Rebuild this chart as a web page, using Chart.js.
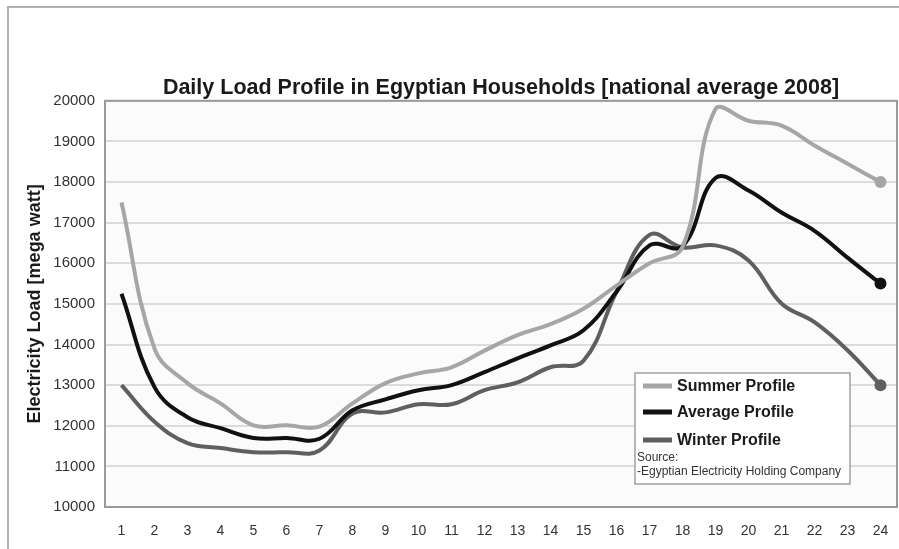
<!DOCTYPE html>
<html>
<head>
<meta charset="utf-8">
<script src="https://cdn.jsdelivr.net/npm/chart.js@4.4.0/dist/chart.umd.min.js"></script>
<style>
    html, body { margin: 0; padding: 0; background: #ffffff; overflow: hidden; }
    #wrap { position: relative; width: 899px; height: 549px; overflow: hidden; }
    #frame {
        position: absolute; left: 7px; top: 6px; right: -10px; bottom: -10px;
        border-left: 2px solid #b0b0b0; border-top: 2px solid #b0b0b0;
    }
    canvas { position: absolute; left: 0; top: 0; }
</style>
</head>
<body>
<div id="wrap">
    <div id="frame"></div>
    <canvas id="loadChart" width="903" height="549"></canvas>
</div>
<script>
// 数据 (hour of day, MW)
const hours = ['1', '2', '3', '4', '5', '6', '7', '8', '9', '10', '11', '12',
    '13', '14', '15', '16', '17', '18', '19', '20', '21', '22', '23', '24'];

const summerProfile = [17500, 13900, 13050, 12550, 12010, 12010, 11980, 12550, 13050, 13290, 13440, 13850,
    14230, 14500, 14880, 15450, 16000, 16400, 19800, 19510, 19390, 18900, 18450, 18000];

const averageProfile = [15250, 12950, 12210, 11940, 11700, 11700, 11680, 12380, 12650, 12875, 13000, 13320,
    13660, 13980, 14350, 15300, 16440, 16420, 18100, 17790, 17250, 16800, 16140, 15500];

const winterProfile = [13000, 12100, 11570, 11450, 11350, 11350, 11390, 12300, 12330, 12530, 12530, 12875,
    13070, 13440, 13600, 15300, 16700, 16390, 16440, 16070, 15010, 14550, 13860, 13000];

const seriesNames = ['Summer Profile', 'Average Profile', 'Winter Profile'];
const sourceLines = ['Source:', '-Egyptian Electricity Holding Company'];

const FONT = '"Liberation Sans", Arial, Helvetica, sans-serif';

// 只在最后一个点画圆点
function lastPointRadius(ctx) {
    return ctx.dataIndex === hours.length - 1 ? 6 : 0;
}

function makeDataset(label, data, color) {
    return {
        label: label,
        data: data,
        borderColor: color,
        backgroundColor: color,
        borderWidth: 4,
        tension: 0.4,
        pointRadius: lastPointRadius,
        pointHoverRadius: lastPointRadius,
        pointBorderWidth: 0,
        fill: false
    };
}

// 绘图区背景和边框
const plotFrame = {
    id: 'plotFrame',
    beforeDraw(chart) {
        const { ctx, chartArea: a } = chart;
        ctx.save();
        ctx.fillStyle = '#fbfbfb';
        ctx.fillRect(a.left, a.top, a.right - a.left, a.bottom - a.top);
        ctx.restore();
    },
    afterDatasetsDraw(chart) {
        const { ctx, chartArea: a } = chart;
        ctx.save();
        ctx.strokeStyle = '#9a9a9a';
        ctx.lineWidth = 2;
        ctx.strokeRect(a.left, a.top, a.right - a.left, a.bottom - a.top);
        ctx.restore();
    }
};

// 图内图例 + 数据来源
const boxLegend = {
    id: 'boxLegend',
    afterDraw(chart) {
        const ctx = chart.ctx;
        const x = 635, y = 373, w = 215, h = 111;
        ctx.save();
        ctx.fillStyle = '#ffffff';
        ctx.fillRect(x, y, w, h);
        ctx.strokeStyle = '#a0a0a0';
        ctx.lineWidth = 1.5;
        ctx.strokeRect(x, y, w, h);

        const rows = [386, 412, 440];
        chart.data.datasets.forEach((ds, i) => {
            ctx.strokeStyle = ds.borderColor;
            ctx.lineWidth = 5;
            ctx.beginPath();
            ctx.moveTo(643, rows[i]);
            ctx.lineTo(672, rows[i]);
            ctx.stroke();
            ctx.fillStyle = '#1a1a1a';
            ctx.font = 'bold 16px ' + FONT;
            ctx.textBaseline = 'middle';
            ctx.textAlign = 'left';
            ctx.fillText(ds.label, 677, rows[i] + 1);
        });

        ctx.font = '12px ' + FONT;
        ctx.fillStyle = '#333333';
        ctx.fillText(sourceLines[0], 637, 458);
        ctx.fillText(sourceLines[1], 637, 472);
        ctx.restore();
    }
};

const chart = new Chart(document.getElementById('loadChart'), {
    type: 'line',
    data: {
        labels: hours,
        datasets: [
            makeDataset(seriesNames[0], summerProfile, '#a6a6a6'),
            makeDataset(seriesNames[1], averageProfile, '#111111'),
            makeDataset(seriesNames[2], winterProfile, '#5f5f5f')
        ]
    },
    options: {
        responsive: false,
        animation: false,
        layout: { padding: { left: 0, right: 2, top: 0, bottom: 0 } },
        plugins: {
            legend: { display: false },
            tooltip: { enabled: false },
            title: {
                display: true,
                text: 'Daily Load Profile in Egyptian Households [national average 2008]',
                fullSize: false,
                color: '#1a1a1a',
                font: { family: FONT, size: 21.5, weight: 'bold' },
                padding: { top: 75, bottom: 0 }
            }
        },
        scales: {
            x: {
                offset: true,
                grid: { display: false, drawTicks: false },
                border: { display: false },
                ticks: {
                    color: '#333333',
                    font: { family: FONT, size: 14 },
                    padding: 16,
                    maxRotation: 0,
                    autoSkip: false
                },
                afterFit(scale) {
                    scale.height = 42;
                    scale.paddingLeft = 0;
                    scale.paddingRight = 0;
                }
            },
            y: {
                min: 10000,
                max: 20000,
                grid: { color: '#dcdcdc', lineWidth: 2, drawTicks: false },
                border: { display: false },
                ticks: {
                    stepSize: 1000,
                    color: '#333333',
                    font: { family: FONT, size: 15 },
                    padding: 10,
                    callback: function(value) {
                        return String(value);
                    }
                },
                title: {
                    display: true,
                    text: 'Electricity Load [mega watt]',
                    color: '#1a1a1a',
                    font: { family: FONT, size: 18, weight: 'bold' },
                    padding: { top: 24, bottom: 0 }
                },
                afterFit(scale) { scale.width = 105; }
            }
        }
    },
    plugins: [plotFrame, boxLegend]
});
</script>
</body>
</html>
